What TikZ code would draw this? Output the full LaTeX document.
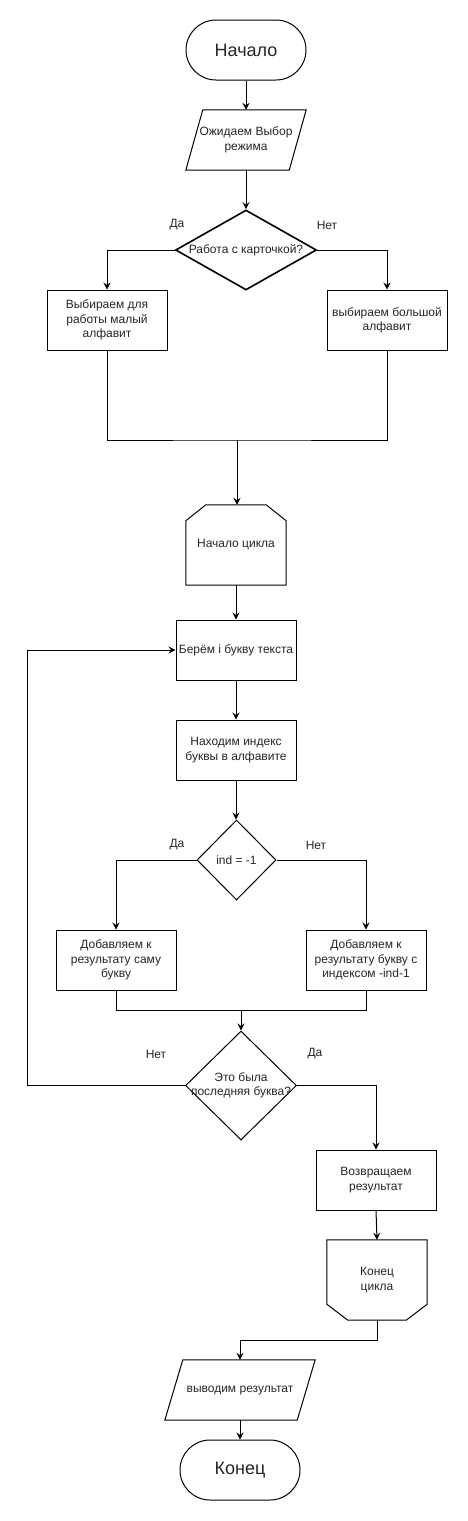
\documentclass[tikz,border=0pt]{standalone}
\usepackage{fontspec}
\setmainfont{Liberation Sans}
\usetikzlibrary{arrows.meta,shapes.geometric}
\begin{document}
\begin{tikzpicture}[x=1pt,y=-1pt,
  every node/.style={font=\fontsize{12}{14.4}\selectfont, text=black!85},
  base/.style={minimum width=120pt, minimum height=60pt, inner sep=0pt, align=center},
  proc/.style={base, draw, line width=1pt},
  term/.style={proc, rounded corners=30pt, font=\fontsize{18}{21}\selectfont},
  io/.style={base},
  dec/.style={diamond, draw, line width=1pt, inner sep=0pt},
  lbl/.style={inner sep=0pt, align=center},
  arr/.style={-{Stealth[length=7pt,width=7pt,inset=2.5pt]}, line width=1pt},
  ln/.style={line width=1pt}]
\fill[white] (0,0) rectangle (468,1521);
\useasboundingbox (0,0) rectangle (468,1521);

% nodes
\node[term] (start) at (246,50) {Начало};
\node[io] (in1) at (246,140) {Ожидаем Выбор\\режима};
\draw[ln] ([xshift=17pt]in1.north west) -- (in1.north east) -- ([xshift=-17pt]in1.south east) -- (in1.south west) -- cycle;
\node[dec, line width=1.6pt, minimum width=141pt, minimum height=80pt] (d1) at (246,250) {};
\node[lbl] at (d1) {Работа с карточкой?};
\node[proc] (b1) at (107,320) {Выбираем для\\работы малый\\алфавит};
\node[proc] (b2) at (387,320) {выбираем большой\\алфавит};

\node[base, minimum width=100pt, minimum height=80pt] (loop1) at (236,545) {Начало цикла};
\draw[ln] ([yshift=-16pt]loop1.north west) -- ([xshift=20pt]loop1.north west) -- ([xshift=-20pt]loop1.north east) -- ([yshift=-16pt]loop1.north east) -- (loop1.south east) -- (loop1.south west) -- cycle;

\node[proc] (take) at (236,650) {Берём i букву текста};
\node[proc] (find) at (236,750) {Находим индекс\\буквы в алфавите};
\node[dec, minimum width=79pt, minimum height=80pt] (d2) at (236.5,860) {};
\node[lbl] at (d2) {ind = -1};
\node[proc] (c1) at (116,960) {Добавляем к\\результату саму\\букву};
\node[proc] (c2) at (366,960) {Добавляем к\\результату букву с\\индексом -ind-1};
\node[dec, minimum width=111pt, minimum height=109pt] (d3) at (241,1085.5) {};
\node[lbl] at (d3) {Это была\\последняя буква?};
\node[proc] (ret) at (376,1180) {Возвращаем\\результат};

\node[base, minimum width=100pt, minimum height=80pt] (loop2) at (377,1280) {Конец\\цикла};
\draw[ln] (loop2.north west) -- (loop2.north east) -- ([yshift=16pt]loop2.south east) -- ([xshift=-21pt]loop2.south east) -- ([xshift=21pt]loop2.south west) -- ([yshift=16pt]loop2.south west) -- cycle;

\node[io, minimum width=150pt] (out) at (240,1390) {выводим результат};
\draw[ln] ([xshift=18pt]out.north west) -- (out.north east) -- ([xshift=-18pt]out.south east) -- (out.south west) -- cycle;
\node[term] (end) at (240,1470) {Конец};

% labels
\node[lbl] at (177,225) {Да};
\node[lbl] at (327,225) {Нет};
\node[lbl] at (177,845) {Да};
\node[lbl] at (316,845) {Нет};
\node[lbl] at (156,1054) {Нет};
\node[lbl] at (315,1054) {Да};

% coordinates
\coordinate (j1) at (237,440);
\coordinate (j2) at (241,1010);
\coordinate (lp) at (27,1085.5);

% connectors
\draw[arr] (start.south) -- (in1.north);
\draw[arr] (in1.south) -- (d1.north);
\draw[arr] (d1.west) -| (b1.north);
\draw[arr] (d1.east) -| (b2.north);
\draw[ln] (b1.south) |- (j1) -| (b2.south);
\draw[arr] (j1) -- (j1 |- loop1.north);
\draw[arr] (loop1.south) -- (take.north);
\draw[arr] (take.south) -- (find.north);
\draw[arr] (find.south) -- (find.south |- d2.north);
\draw[arr] (d2.west) -| (c1.north);
\draw[arr] (d2.east) -| (c2.north);
\draw[ln] (c1.south) |- (j2) -| (c2.south);
\draw[arr] (j2) -- (d3.north);
\draw[arr] (d3.west) -- (lp) |- (take.west);
\draw[arr] (d3.east) -| (ret.north);
\draw[arr] (ret.south) -- (loop2.north);
\draw[arr] (loop2.south) -- ++(0,20) -| (out.north);
\draw[arr] (out.south) -- (end.north);
\end{tikzpicture}
\end{document}
